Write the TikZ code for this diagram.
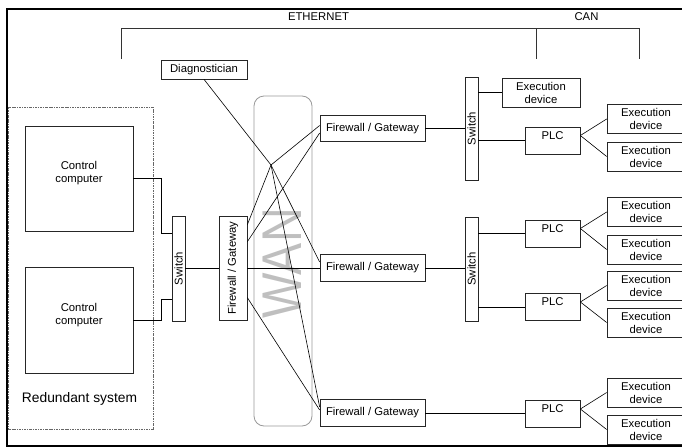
\documentclass[tikz,border=0pt]{standalone}
\usepackage{fontspec}
\setmainfont{Liberation Sans}
\usetikzlibrary{calc}
\begin{document}
\begin{tikzpicture}[x=1pt,y=-1pt,
  box/.style={draw=black!85, line width=0.7pt, inner sep=0pt, align=center, font=\fontsize{11.3}{13}\selectfont},
  exbox/.style={box, minimum width=78pt, minimum height=29pt},
  fwbox/.style={box, minimum width=105pt, minimum height=26.5pt},
  plcbox/.style={box, minimum width=55pt, minimum height=27pt, text height=8pt, text depth=11pt},
  swbox/.style={box, minimum width=13pt, minimum height=104pt},
  ln/.style={draw=black, line width=0.6pt},
  lbl/.style={inner sep=0pt, font=\fontsize{11.3}{13}\selectfont}]
\useasboundingbox (0,0) rectangle (682,447);

% outer frame
\draw[line width=2pt] (682,9) -- (7,9) -- (7,446) -- (682,446);

% header labels and bracket
\node[lbl] (eth) at (318.5,16.5) {ETHERNET};
\node[lbl] (can) at (586.5,16.5) {CAN};
\coordinate (b1) at (121,59);
\coordinate (b2) at (121,28);
\coordinate (b3) at (639,28);
\coordinate (b4) at (639,59);
\coordinate (b5) at (536,28);
\coordinate (b6) at (536,59);
\draw[ln, draw=black!80] (b1) -- (b2) -- (b3) -- (b4);
\draw[ln, draw=black!80] (b5) -- (b6);

% redundant system
\node[draw=black!60, dash pattern=on 2.5pt off 1pt on 0.8pt off 1pt, line width=0.6pt,
      minimum width=145pt, minimum height=322pt, inner sep=0pt] (red) at (80.5,268) {};
\node[inner sep=0pt, font=\fontsize{13.8}{15}\selectfont] (redtext) at (79.5,399) {Redundant system};
\node[box, minimum width=108pt, minimum height=105pt,
      label={[align=center, yshift=5pt, font=\fontsize{11.3}{13}\selectfont]center:Control\\computer}] (cc1) at (79,178.5) {};
\node[box, minimum width=108pt, minimum height=106pt,
      label={[align=center, yshift=5pt, font=\fontsize{11.3}{13}\selectfont]center:Control\\computer}] (cc2) at (79,320) {};

% WAN
\node[draw=black!40, rounded corners=10pt, line width=0.8pt, minimum width=58pt, minimum height=330pt, inner sep=0pt] (wan) at (283,261) {};
\node[text=black!25, rotate=90, inner sep=0pt, font=\fontsize{56}{56}\selectfont] (wantext) at (282,263.5) {\scalebox{0.86}[1]{WAN}};

% left switch and firewall
\node[swbox, minimum height=105pt] (sw0) at (178.5,268.5) {\rotatebox{90}{Switch}};
\node[swbox, minimum width=28pt] (fwL) at (233,268) {\rotatebox{90}{Firewall / Gateway}};

% diagnostician
\node[box, minimum width=86pt, minimum height=19pt] (diag) at (204,69.5) {Diagnostician};

% firewalls
\node[fwbox] (fw1) at (372.5,128.5) {Firewall / Gateway};
\node[fwbox] (fw2) at (372.5,268) {Firewall / Gateway};
\node[fwbox] (fw3) at (372.5,413) {Firewall / Gateway};

% switches right
\node[swbox, minimum height=103pt] (sw1) at (471.5,128.5) {\rotatebox{90}{Switch}};
\node[swbox] (sw2) at (471.5,269) {\rotatebox{90}{Switch}};

% PLCs and execution devices
\node[exbox] (exTop) at (541,92.5) {Execution\\device};
\node[plcbox] (plc1) at (552.5,140.5) {PLC};
\node[plcbox] (plc2) at (552.5,233.5) {PLC};
\node[plcbox] (plc3) at (552.5,307) {PLC};
\node[plcbox] (plc4) at (552.5,414) {PLC};
\node[exbox] (ex1) at (646,119) {Execution\\device};
\node[exbox] (ex2) at (646,156.5) {Execution\\device};
\node[exbox] (ex3) at (646,212) {Execution\\device};
\node[exbox] (ex4) at (646,249.5) {Execution\\device};
\node[exbox] (ex5) at (646,285.5) {Execution\\device};
\node[exbox] (ex6) at (646,322.5) {Execution\\device};
\node[exbox] (ex7) at (646,392.5) {Execution\\device};
\node[exbox] (ex8) at (646,429.5) {Execution\\device};

% left connections
\draw[ln] (cc1.east) -| ($(sw0.north west)+(-10,18)$) -- ($(sw0.north west)+(0,18)$);
\draw[ln] (cc2.east) -| ($(sw0.north west)+(-10,84)$) -- ($(sw0.north west)+(0,84)$);
\draw[ln] (sw0.east) -- (fwL.west |- sw0.east);
\draw[ln] (fwL.east) -- (fw2.west);

% WAN mesh
\coordinate (hub) at (271,165);
\draw[ln] (diag.south) -- (hub) -- ($(fw2.west)+(0,-6)$);
\draw[ln] (hub) -- ($(fw1.west)+(0,-3)$);
\draw[ln] (hub) -- ($(fwL.north east)+(0,9)$);
\draw[ln] (hub) -- ($(fw3.west)+(0,-6)$);
\draw[ln] ($(fw1.west)+(0,4.5)$) -- ($(fwL.north east)+(0,26)$);
\draw[ln] ($(fwL.north east)+(0,82)$) -- ($(fw3.west)+(0,-3)$);

% right connections
\draw[ln] (fw1.east) -- (fw1.east -| sw1.west);
\draw[ln] (exTop.west -| sw1.east) -- (exTop.west);
\draw[ln] (plc1.west -| sw1.east) -- (plc1.west);
\draw[ln] (fw2.east) -- (fw2.east -| sw2.west);
\draw[ln] (plc2.west -| sw2.east) -- (plc2.west);
\draw[ln] (plc3.west -| sw2.east) -- (plc3.west);
\draw[ln] (fw3.east) -- (fw3.east -| plc4.west);

\draw[ln] ($(plc1.east)+(0,-5)$) -- (ex1.west);
\draw[ln] ($(plc1.east)+(0,-5)$) -- (ex2.west);
\draw[ln] ($(plc2.east)+(0,-5)$) -- (ex3.west);
\draw[ln] ($(plc2.east)+(0,-5)$) -- (ex4.west);
\draw[ln] ($(plc3.east)+(0,-5)$) -- (ex5.west);
\draw[ln] ($(plc3.east)+(0,-5)$) -- (ex6.west);
\draw[ln] ($(plc4.east)+(0,-5)$) -- (ex7.west);
\draw[ln] ($(plc4.east)+(0,-5)$) -- (ex8.west);
\end{tikzpicture}
\end{document}
